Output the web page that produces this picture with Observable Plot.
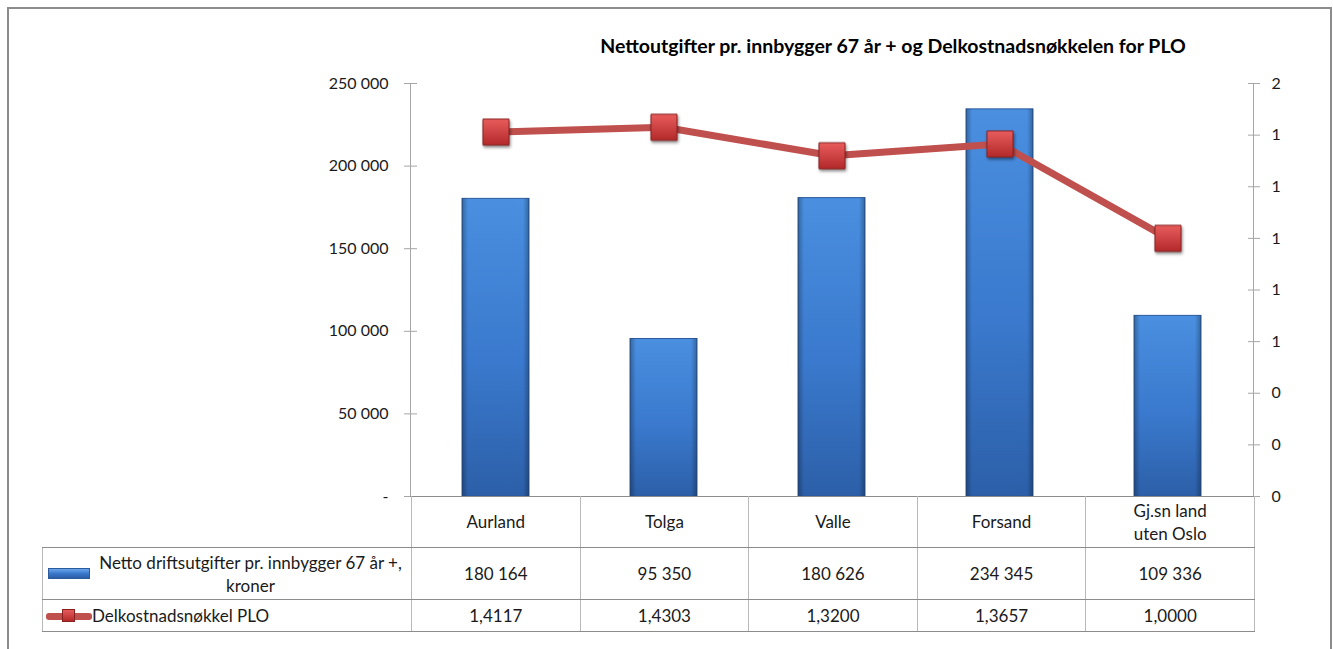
<!DOCTYPE html>
<html><head><meta charset="utf-8">
<script src="https://cdn.jsdelivr.net/npm/d3@7"></script>
<script src="https://cdn.jsdelivr.net/npm/@observablehq/plot@0.6"></script>
<style>
body{margin:0;background:#fff;font-family:Lato,"Open Sans",sans-serif;color:#1a1a1a;}
#wrap{position:relative;width:1333px;height:649px;overflow:hidden;background:#fff;}
#frame{position:absolute;left:7px;top:7px;width:1325px;height:700px;border:2px solid #8c8c8c;box-sizing:border-box;}
#title{position:absolute;top:34px;left:493px;width:800px;text-align:center;font-weight:bold;font-size:19.5px;color:#000;}
#chart{position:absolute;left:0;top:60px;}
#chart svg{overflow:visible;}
#chart g[aria-label="dot"]{filter:drop-shadow(1px 2px 1.5px rgba(0,0,0,0.45));}
#tbl{position:absolute;left:42px;top:496px;border-collapse:collapse;table-layout:fixed;font-size:17px;}
#tbl td{padding:0;text-align:center;border-left:1px solid #b9b9b9;border-right:1px solid #b9b9b9;border-bottom:1px solid #8c8c8c;line-height:23px;}
#tbl tr.hdr td{height:51px;}
#tbl tr.hdr td.blank{border-left:none;border-top:none;}
#tbl tr.r1 td{height:51px;}
#tbl tr.r2 td{height:31px;}
#tbl td.leg{text-align:left;}
.legwrap{display:flex;align-items:center;}
.swB{width:40px;height:9px;margin-left:5px;border:1px solid #2b5b9c;background:linear-gradient(#6aa6ea,#3a78cc 50%,#2b5ea6);flex:none;}
.legtxt{width:321px;text-align:center;}
.swR{position:relative;width:46px;height:14px;margin-left:3px;flex:none;}
.swR .ln{position:absolute;left:0;top:4px;width:46px;height:7px;border-radius:3px;background:#c0504d;}
.swR .mk{position:absolute;left:16px;top:0;width:13px;height:13px;background:linear-gradient(#e55b5b,#b52a2a);border:1px solid #8b2020;box-sizing:border-box;}
</style>
</head><body>
<div id="wrap">
  <div id="frame"></div>
  <div id="title"></div>
  <div id="chart"></div>
  <table id="tbl"></table>
</div>
<script>
const titleText = "Nettoutgifter pr. innbygger 67 år + og Delkostnadsnøkkelen for PLO";
const categories = ["Aurland", "Tolga", "Valle", "Forsand", "Gj.sn land uten Oslo"];
const categoryLabels = ["Aurland", "Tolga", "Valle", "Forsand", "Gj.sn land<br>uten Oslo"];
const nettoDrift = [180164, 95350, 180626, 234345, 109336];
const delkostnad = [1.4117, 1.4303, 1.3200, 1.3657, 1.0000];
const seriesNames = ["Netto driftsutgifter pr. innbygger 67 år +, kroner", "Delkostnadsnøkkel PLO"];
const leftTicks = [0, 50000, 100000, 150000, 200000, 250000];
const rightTicks = [0, 0.2, 0.4, 0.6, 0.8, 1.0, 1.2, 1.4, 1.6];

const leftMax = 250000, rightMax = 1.6;
const k = leftMax / rightMax;
const data = categories.map((c, i) => ({cat: c, netto: nettoDrift[i], key: delkostnad[i], keyScaled: delkostnad[i] * k}));

const fmtThousands = d => d3.format(",")(d).replace(/,/g, " ");
const fmtLeft = d => d === 0 ? "-" : fmtThousands(d);
const fmtKey = d => d3.format(".4f")(d).replace(".", ",");

document.getElementById("title").textContent = titleText;

const defs = () => {
  const g = d3.create("svg:defs");
  const bg = g.append("linearGradient").attr("id", "barGrad").attr("x1", 0).attr("y1", 0).attr("x2", 0).attr("y2", 1);
  bg.append("stop").attr("offset", "0%").attr("stop-color", "#4a8fe0");
  bg.append("stop").attr("offset", "55%").attr("stop-color", "#3a79cd");
  bg.append("stop").attr("offset", "100%").attr("stop-color", "#2c5fa8");
  const sg = g.append("linearGradient").attr("id", "barSide").attr("x1", 0).attr("y1", 0).attr("x2", 1).attr("y2", 0);
  sg.append("stop").attr("offset", "0%").attr("stop-color", "#000").attr("stop-opacity", 0.28);
  sg.append("stop").attr("offset", "9%").attr("stop-color", "#000").attr("stop-opacity", 0);
  sg.append("stop").attr("offset", "91%").attr("stop-color", "#000").attr("stop-opacity", 0);
  sg.append("stop").attr("offset", "100%").attr("stop-color", "#000").attr("stop-opacity", 0.28);
  const mg = g.append("linearGradient").attr("id", "mkGrad").attr("x1", 0).attr("y1", 0).attr("x2", 0).attr("y2", 1);
  mg.append("stop").attr("offset", "0%").attr("stop-color", "#e85c5c");
  mg.append("stop").attr("offset", "100%").attr("stop-color", "#b3292a");
  return g.node();
};

const chart = Plot.plot({
  width: 1333,
  height: 456,
  marginTop: 23,
  marginBottom: 20,
  marginLeft: 410,
  marginRight: 80,
  x: {domain: categories, paddingInner: 0.6, paddingOuter: 0.3, axis: null},
  y: {domain: [0, leftMax], axis: null},
  style: {fontFamily: "Lato, 'Open Sans', sans-serif", fontSize: "16px", color: "#1a1a1a", background: "transparent"},
  marks: [
    defs,
    Plot.barY(data, {x: "cat", y: "netto", fill: "url(#barGrad)", stroke: "#2b5b9c", strokeWidth: 1}),
    Plot.barY(data, {x: "cat", y: "netto", fill: "url(#barSide)"}),
    Plot.frame({anchor: "left", stroke: "#a6a6a6"}),
    Plot.frame({anchor: "right", stroke: "#a6a6a6"}),
    Plot.axisY(leftTicks, {anchor: "left", tickSize: 13, dx: 7, tickPadding: 16, tickFormat: fmtLeft, stroke: "#a6a6a6", fill: "#1a1a1a", label: null}),
    Plot.axisY(rightTicks.map(v => v * k), {anchor: "right", tickSize: 12, dx: -6, tickPadding: 12, tickFormat: d => Math.round(d / k), stroke: "#a6a6a6", fill: "#1a1a1a", label: null}),
    Plot.frame({anchor: "bottom", stroke: "#8c8c8c"}),
    Plot.line(data, {x: "cat", y: "keyScaled", stroke: "#c0504d", strokeWidth: 7}),
    Plot.dot(data, {x: "cat", y: "keyScaled", symbol: "square", r: 14.7, fill: "url(#mkGrad)", stroke: "#8b2222", strokeWidth: 1})
  ]
});
document.getElementById("chart").appendChild(chart);

// data table
const tbl = d3.select("#tbl");
const cg = tbl.append("colgroup");
cg.append("col").style("width", "368px");
categories.forEach(() => cg.append("col").style("width", "168.6px"));
const hdr = tbl.append("tr").attr("class", "hdr");
hdr.append("td").attr("class", "blank");
categoryLabels.forEach(c => hdr.append("td").html(c));
const r1 = tbl.append("tr").attr("class", "r1");
r1.append("td").attr("class", "leg").html(`<div class="legwrap"><div class="swB"></div><div class="legtxt">${seriesNames[0]}</div></div>`);
nettoDrift.forEach(v => r1.append("td").text(fmtThousands(v)));
const r2 = tbl.append("tr").attr("class", "r2");
r2.append("td").attr("class", "leg").html(`<div class="legwrap"><div class="swR"><div class="ln"></div><div class="mk"></div></div><div>${seriesNames[1]}</div></div>`);
delkostnad.forEach(v => r2.append("td").text(fmtKey(v)));
</script>
</body></html>
